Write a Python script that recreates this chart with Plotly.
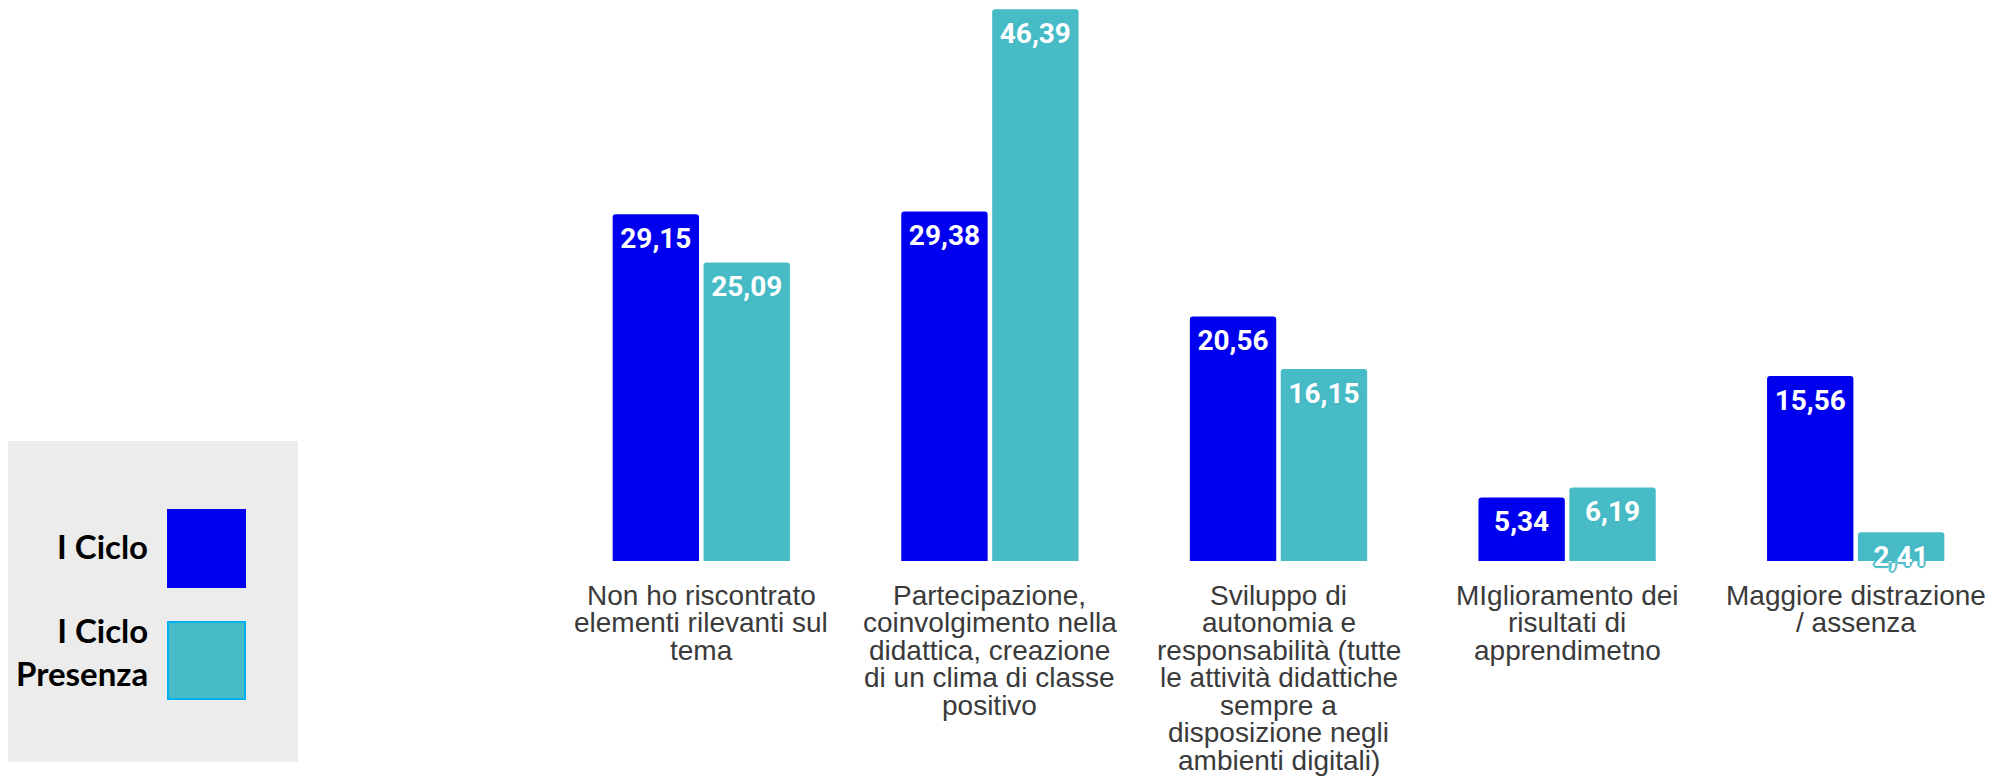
import plotly.graph_objects as go

# ---------------- data ----------------
categories = [
    "Non ho riscontrato<br>elementi rilevanti sul<br>tema",
    "Partecipazione,<br>coinvolgimento nella<br>didattica, creazione<br>di un clima di classe<br>positivo",
    "Sviluppo di<br>autonomia e<br>responsabilità (tutte<br>le attività didattiche<br>sempre a<br>disposizione negli<br>ambienti digitali)",
    "MIglioramento dei<br>risultati di<br>apprendimetno",
    "Maggiore distrazione<br>/ assenza",
]
series_names = ["I Ciclo", "I Ciclo<br>Presenza"]
ciclo = [29.15, 29.38, 20.56, 5.34, 15.56]
presenza = [25.09, 46.39, 16.15, 6.19, 2.41]

# ---------------- styles ----------------
W, H = 2000, 781
OFF = 8  # page body margin compensation
BLUE = "#0000EE"
CYAN = "#47BBC6"
CYAN_EDGE = "#00B0F0"
plot_left = 557 - OFF
plot_right = 2000 - OFF
plot_bottom = 561 - OFF
ymax = 46.5


def fx(p):
    return (p - OFF) / W


def fy(p):
    return 1 - (p - OFF) / H


def outline(col):
    return ", ".join("%dpx %dpx 1px %s" % (a, b, col)
                     for a, b in [(2, 0), (-2, 0), (0, 2), (0, -2), (1, 1), (-1, -1), (1, -1), (-1, 1)])


fig = go.Figure()
series = [(series_names[0], ciclo, BLUE, "g1"), (series_names[1], presenza, CYAN, "g2")]
for name, vals, col, grp in series:
    fig.add_trace(go.Bar(
        x=categories, y=vals, name=name, offsetgroup=grp,
        marker=dict(color=col, cornerradius=3, line=dict(width=0)),
        hoverinfo="skip",
    ))
for name, vals, col, grp in series:
    fig.add_trace(go.Scatter(
        x=categories, y=vals, name=name, offsetgroup=grp,
        mode="markers+text", texttemplate="%{y:.2f}", textposition="bottom center",
        marker=dict(size=19, opacity=0, color=col),
        cliponaxis=False, hoverinfo="skip",
        textfont=dict(family="Roboto", size=28, color="white", weight="bold",
                      shadow=outline(col)),
    ))

annotations = []
# category labels (one annotation per line)
for cat in categories:
    for i, line in enumerate(cat.split("<br>")):
        annotations.append(dict(
            x=cat, xref="x", y=0, yref="y", yanchor="middle", xanchor="center",
            yshift=-(34 + i * 27.5), text=line, showarrow=False,
            font=dict(family="Liberation Sans", size=28, color="#3a3a3a"),
        ))

# custom legend (box, swatches, labels)
shapes = [dict(type="rect", xref="paper", yref="paper",
               x0=fx(0), x1=fx(298), y0=fy(762), y1=fy(441),
               fillcolor="#ECECEC", line=dict(width=0), layer="below")]
legend_items = [
    (series_names[0], BLUE, BLUE, 510, 587, -3),
    (series_names[1], CYAN, CYAN_EDGE, 622, 699, -9),
]
for name, fill, edge, y0, y1, dy in legend_items:
    shapes.append(dict(type="rect", xref="paper", yref="paper",
                       x0=fx(168), x1=fx(245), y0=fy(y1), y1=fy(y0),
                       fillcolor=fill, line=dict(color=edge, width=2)))
    annotations.append(dict(
        x=fx(150), y=fy((y0 + y1) / 2 + dy), xref="paper", yref="paper",
        xanchor="right", yanchor="middle", align="right", showarrow=False,
        text="<b>%s</b>" % name,
        font=dict(family="Lato", size=33, color="black"),
    ))

fig.update_layout(
    width=W, height=H,
    margin=dict(l=0, r=0, t=0, b=0),
    paper_bgcolor="white", plot_bgcolor="white",
    barmode="group", bargap=0.37, bargroupgap=0.05,
    scattermode="group", scattergap=0.37,
    separators=",.",
    showlegend=False,
    xaxis=dict(domain=[plot_left / W, plot_right / W], showticklabels=False, showgrid=False,
               zeroline=False, showline=False, ticks=""),
    yaxis=dict(domain=[(H - plot_bottom) / H, 1], range=[0, ymax], visible=False,
               showgrid=False, zeroline=False),
    annotations=annotations,
    shapes=shapes,
)

fig.write_html("out.html")
